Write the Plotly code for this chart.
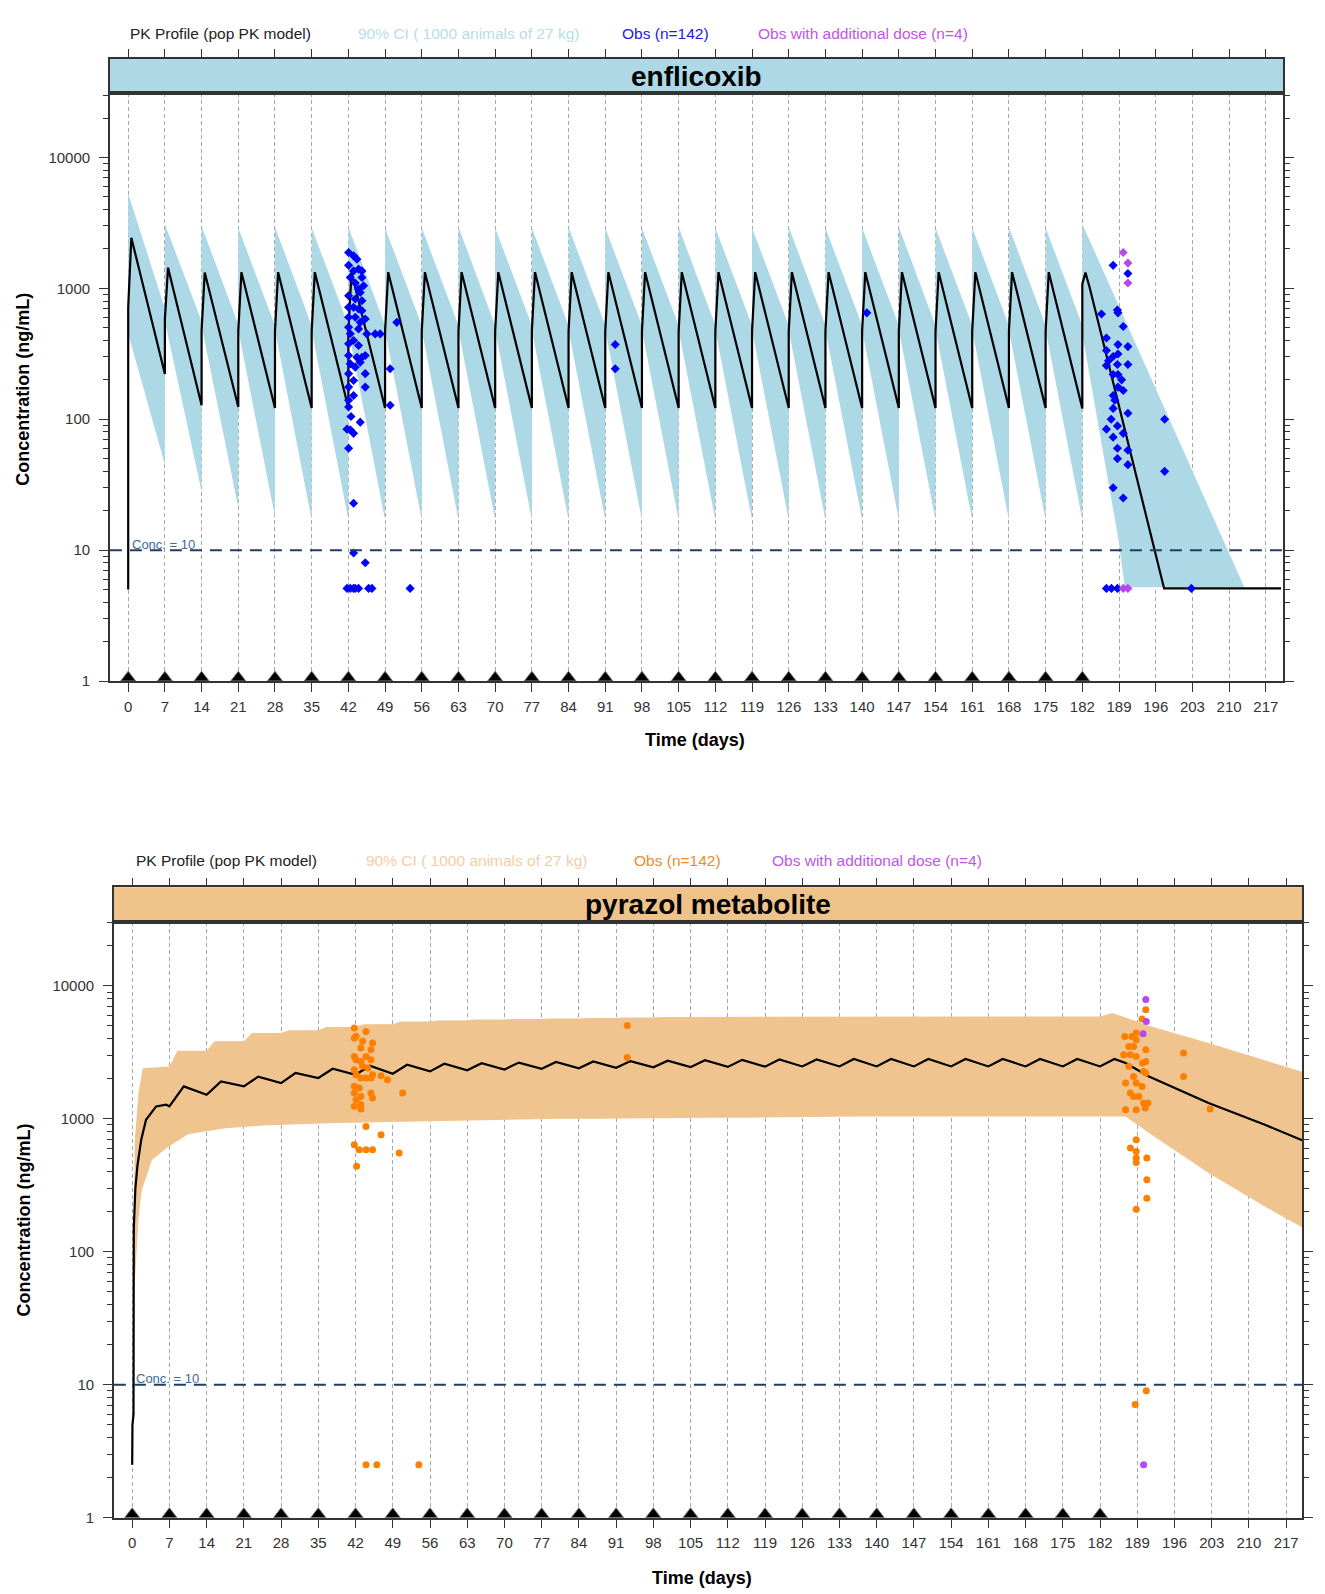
import plotly.graph_objects as go

# ---------------- values ----------------
dose_days = [0, 7, 14, 21, 28, 35, 42, 49, 56, 63, 70, 77, 84, 91, 98, 105, 112,
             119, 126, 133, 140, 147, 154, 161, 168, 175, 182]
day_ticks = [0, 7, 14, 21, 28, 35, 42, 49, 56, 63, 70, 77, 84, 91, 98, 105, 112,
             119, 126, 133, 140, 147, 154, 161, 168, 175, 182, 189, 196, 203, 210, 217]
conc_ticks = [1, 10, 100, 1000, 10000]
lloq = 10

# enflicoxib: median profile (start, after-dose jump, peak, value at next dose)
enf_start = 5
enf_jump = [716, 584, 475, 470, 470, 470, 470, 470, 470, 470, 470, 470, 470, 470,
            470, 470, 470, 470, 470, 470, 470, 470, 470, 470, 470, 470, 1080]
enf_peak = [2440, 1440, 1320, 1330, 1330, 1330, 1330, 1330, 1330, 1330, 1330, 1330,
            1330, 1330, 1330, 1330, 1330, 1330, 1330, 1330, 1330, 1330, 1330, 1330,
            1330, 1330, 1320]
enf_trough = [222, 128, 124, 122, 122, 122, 122, 122, 122, 122, 122, 122, 122, 122,
              122, 122, 122, 122, 122, 122, 122, 122, 122, 122, 122, 121]
enf_tail_days = [183.4, 197.6, 219.9]
enf_tail_conc = [1016, 5.1, 5.1]

# enflicoxib 90% CI band
enf_ci_hi_peak = [5300, 3100, 3000, 2900, 2950, 2900, 2950, 2900, 2900, 2950, 2900,
                  2900, 2950, 2900, 2900, 2950, 2900, 2900, 2950, 2900, 2900, 2950,
                  2900, 2900, 2950, 2900, 3100]
enf_ci_hi_end = [700, 560, 530, 520, 520, 520, 520, 520, 520, 520, 520, 520, 520,
                 520, 520, 520, 520, 520, 520, 520, 520, 520, 520, 520, 520, 520]
enf_ci_lo_start = [450, 560, 520, 480, 480, 480, 480, 480, 480, 480, 480, 480, 480,
                   480, 480, 480, 480, 480, 480, 480, 480, 480, 480, 480, 480, 480, 450]
enf_ci_lo_end = [45, 28, 21, 18, 17, 17, 17, 17, 17, 17, 17, 17, 17, 17, 17, 17, 17,
                 17, 17, 17, 17, 17, 17, 17, 17, 17]
enf_ci_tail_hi_days = [212.9]
enf_ci_tail_hi = [5.2]
enf_ci_tail_lo_days = [188.9, 190.1, 212.9]
enf_ci_tail_lo = [12, 5.2, 5.2]

# enflicoxib observations
enf_obs_days = [42.04, 42.99, 43.63, 42.04, 43.94, 44.58, 42.99, 42.36, 44.58, 43.31,
                44.90, 43.94, 44.26, 42.04, 43.31, 44.58, 42.04, 42.99, 43.94, 44.58,
                42.04, 43.31, 45.22, 44.26, 51.24, 42.04, 43.94, 42.36, 45.53, 47.12,
                48.07, 42.99, 42.04, 43.94, 42.04, 43.63, 44.58, 45.22, 42.36, 44.26,
                43.31, 49.97, 45.22, 42.04, 42.99, 42.04, 45.22, 42.99, 42.04, 49.97,
                42.04, 42.50, 44.26, 41.74, 42.36, 42.99, 42.04, 42.99, 42.99, 45.22,
                41.74, 42.36, 42.99, 43.31, 43.94, 45.85, 46.49, 53.78,
                92.9, 92.9, 140.9,
                187.88, 190.7, 185.66, 188.7, 188.8, 189.8, 186.6, 188.8, 190.7, 186.6,
                187.88, 188.8, 187.0, 186.6, 188.7, 190.7, 187.88, 188.8, 189.5, 188.8,
                189.8, 187.88, 188.2, 187.88, 190.7, 187.5, 186.6, 188.7, 187.88, 189.8,
                188.7, 190.7, 188.7, 190.7, 187.88, 189.8, 186.6, 187.56, 188.7,
                197.7, 197.7, 202.8]
enf_obs_conc = [1880, 1772, 1671, 1500, 1403, 1360, 1360, 1210, 1210, 1100,
                1047, 988, 931, 879, 829, 805, 716, 716, 696, 676,
                601, 601, 583, 550, 550, 505, 490, 450, 449, 449,
                449, 400, 377, 366, 307, 298, 298, 307, 265, 273,
                250, 243, 223, 223, 198, 176, 176, 152, 140, 128,
                124, 105, 95, 84, 83, 78, 60, 22.8, 9.5, 8.0,
                5.1, 5.1, 5.1, 5.1, 5.1, 5.1, 5.1, 5.1,
                373, 243, 650,
                1500, 1300, 637, 684, 650, 511, 418, 372, 359, 335,
                302, 315, 280, 257, 262, 262, 220, 220, 200, 176,
                166, 152, 140, 121, 111, 100, 84, 89, 73, 78,
                60, 58, 50, 45, 30, 25, 5.1, 5.1, 5.1,
                100, 40, 5.1]
enf_add_days = [189.8, 190.7, 190.7, 189.8, 190.7]
enf_add_conc = [1880, 1560, 1100, 5.1, 5.1]

# pyrazol metabolite: median profile
met_start_days = [0, 0.05, 0.25, 0.3, 0.6, 1.0, 1.7, 2.6, 4.5, 6.4]
met_start_conc = [2.5, 5, 6, 150, 300, 450, 697, 985, 1240, 1277]
met_trough = [1240, 1518, 1754, 1860, 2028, 2148, 2186, 2275, 2320, 2350, 2380, 2400,
              2420, 2440, 2450, 2460, 2470, 2480, 2480, 2480, 2480, 2480, 2480, 2480,
              2480, 2480]
met_peak = [1754, 1913, 2080, 2214, 2380, 2510, 2553, 2600, 2620, 2650, 2680, 2700,
            2720, 2740, 2760, 2780, 2800, 2800, 2820, 2820, 2820, 2820, 2820, 2820,
            2820, 2820]
met_tail_days = [186.8, 191.2, 202.4, 213.0, 220.0]
met_tail_conc = [2630, 2085, 1315, 903, 690]

# pyrazol metabolite 90% CI band
met_ci_hi_start_days = [0.1, 0.5, 1.2, 2.0, 7.0]
met_ci_hi_start = [80, 700, 1600, 2400, 2480]
met_ci_hi = [3260, 3830, 4430, 4650, 4900, 5150, 5410, 5500, 5580, 5650, 5700, 5750,
             5800, 5850, 5850, 5900, 5900, 5900, 5900, 5900, 5900, 5900, 5900, 5900,
             5900]
met_ci_tail_hi_days = [184.3, 191.2, 202.4, 220.0]
met_ci_tail_hi = [6270, 5020, 3720, 2260]
met_ci_lo_start_days = [0.1, 0.6, 1.2, 1.8, 3.7, 6.6]
met_ci_lo_start = [40, 70, 180, 290, 490, 610]
met_ci_lo = [767, 850, 890, 913, 930, 950, 960, 970, 980, 990, 1000, 1000, 1010, 1010,
             1020, 1020, 1030, 1030, 1040, 1040, 1040, 1040, 1040, 1040, 1040]
met_ci_tail_lo_days = [186.8, 191.2, 202.4, 213.0, 220.0]
met_ci_tail_lo = [1043, 782, 391, 219, 153]

# pyrazol metabolite observations
met_obs_days = [41.77, 43.97, 42.09, 41.77, 43.33, 45.2, 43.0, 44.9, 41.77, 43.97,
                42.09, 43.0, 44.9, 41.77, 43.33, 44.3, 42.09, 43.0, 43.97, 44.9,
                45.2, 46.8, 48.0, 41.77, 42.7, 41.77, 43.0, 44.9, 45.2, 42.09,
                43.0, 41.77, 43.0, 50.85, 43.97, 46.8, 41.77, 42.7, 43.97, 45.2,
                50.2, 42.2, 43.97, 46.0, 53.9,
                93.1, 93.1,
                190.6, 189.9, 186.65, 188.0, 188.8, 188.8, 187.4, 188.3, 190.6, 186.45,
                187.7, 188.8, 190.0, 190.6, 187.4, 190.2, 188.3, 190.6, 186.8, 188.8,
                189.9, 187.7, 188.3, 189.3, 190.2, 191.0, 186.8, 188.8, 190.5, 197.7,
                197.7, 202.7, 188.8, 187.7, 188.8, 188.8, 188.8, 190.8, 190.8, 190.8,
                188.8, 188.6, 190.7]
met_obs_conc = [4830, 4550, 4180, 4050, 3830, 3720, 3410, 3310, 2950, 2950,
                2786, 2705, 2786, 2344, 2483, 2410, 2148, 2028, 2028, 2028,
                2148, 2113, 1972, 1758, 1707, 1565, 1476, 1565, 1434, 1393,
                1277, 1242, 1186, 1565, 878, 760, 639, 586, 586, 586,
                553, 440, 2.5, 2.5, 2.5,
                5030, 2900,
                6630, 5640, 4170, 4170, 4430, 3940, 3510, 3510, 3310, 3040,
                3040, 2950, 2630, 2705, 2480, 2275, 2085, 2213, 1862, 1862,
                1754, 1565, 1476, 1476, 1315, 1315, 1172, 1172, 1205, 3130,
                2085, 1186, 697, 603, 569, 507, 470, 507, 348, 253,
                209, 7.1, 9.0]
met_add_days = [190.6, 190.7, 190.1, 190.2]
met_add_conc = [7890, 5410, 4370, 2.5]

# ---------------- build the drawn series ----------------
enf_x, enf_y = [0], [enf_start]
for k, d in enumerate(dose_days):
    if k > 0:
        enf_x.append(d)
        enf_y.append(enf_trough[k - 1])
    enf_x += [d, d + 0.6]
    enf_y += [enf_jump[k], enf_peak[k]]
enf_x += enf_tail_days
enf_y += enf_tail_conc

ehi_x, ehi_y, elo_x, elo_y = [], [], [], []
for k, d in enumerate(dose_days):
    if k > 0:
        ehi_x.append(d)
        ehi_y.append(enf_ci_hi_end[k - 1])
        elo_x.append(d)
        elo_y.append(enf_ci_lo_end[k - 1])
    ehi_x.append(d)
    ehi_y.append(enf_ci_hi_peak[k])
    elo_x.append(d)
    elo_y.append(enf_ci_lo_start[k])
ehi_x += enf_ci_tail_hi_days
ehi_y += enf_ci_tail_hi
elo_x += enf_ci_tail_lo_days
elo_y += enf_ci_tail_lo

met_x, met_y = list(met_start_days), list(met_start_conc)
for k, d in enumerate(dose_days[1:]):
    met_x += [d, d + 2.7]
    met_y += [met_trough[k], met_peak[k]]
met_x += met_tail_days
met_y += met_tail_conc

mhi_x, mhi_y = list(met_ci_hi_start_days), list(met_ci_hi_start)
mlo_x, mlo_y = list(met_ci_lo_start_days), list(met_ci_lo_start)
for k, d in enumerate(dose_days[1:-1]):
    mhi_x += [d + 1.5, d + 7]
    mhi_y += [met_ci_hi[k], met_ci_hi[k]]
    mlo_x.append(d + 3.5)
    mlo_y.append(met_ci_lo[k])
mhi_x += met_ci_tail_hi_days
mhi_y += met_ci_tail_hi
mlo_x += met_ci_tail_lo_days
mlo_y += met_ci_tail_lo

# ---------------- figure ----------------
FONT = "Liberation Sans, Arial, sans-serif"
BLUE_BAND = "#ADD8E6"
PEACH_BAND = "#F0C48E"
AXC = "#333333"
dose_level = 1.06

fig = go.Figure()

panels = [
    ("x", "y", ehi_x + elo_x[::-1], ehi_y + elo_y[::-1], BLUE_BAND, enf_x, enf_y,
     enf_obs_days, enf_obs_conc, enf_add_days, enf_add_conc, "#0000FF", "diamond", 7),
    ("x2", "y2", mhi_x + mlo_x[::-1], mhi_y + mlo_y[::-1], PEACH_BAND, met_x, met_y,
     met_obs_days, met_obs_conc, met_add_days, met_add_conc, "#FF7F00", "circle", 7),
]
for (xa, ya, bx, by, bc, lx, ly, ox, oy, ax_, ay_, oc, sym, ms) in panels:
    fig.add_trace(go.Scatter(x=bx, y=by, xaxis=xa, yaxis=ya, mode="lines",
                             fill="toself", fillcolor=bc, line=dict(width=0, color=bc),
                             hoverinfo="skip"))
    fig.add_trace(go.Scatter(x=lx, y=ly, xaxis=xa, yaxis=ya, mode="lines",
                             line=dict(color="black", width=2.2)))
    fig.add_trace(go.Scatter(x=ox, y=oy, xaxis=xa, yaxis=ya, mode="markers",
                             marker=dict(color=oc, size=ms, symbol=sym)))
    fig.add_trace(go.Scatter(x=ax_, y=ay_, xaxis=xa, yaxis=ya, mode="markers",
                             marker=dict(color="#B847F0", size=ms, symbol=sym)))
    fig.add_trace(go.Scatter(x=dose_days, y=[dose_level] * len(dose_days),
                             xaxis=xa, yaxis=ya, mode="markers", cliponaxis=False,
                             marker=dict(symbol="triangle-up", size=13, color="black",
                                         line=dict(color="#777777", width=1))))
    fig.add_shape(type="line", xref=xa + " domain", yref=ya, x0=0, x1=1,
                  y0=lloq, y1=lloq, layer="above",
                  line=dict(color="#1F3F66", width=2, dash="12px,8px"))
    fig.add_annotation(x=0.4, y=1, xref=xa, yref=ya, text="Conc. = 10",
                       showarrow=False, xanchor="left", yanchor="middle", yshift=6,
                       font=dict(family=FONT, size=13, color="#3B6A9C"))

# empty traces so the strip subplots get drawn
for xa, ya in [("x3", "y3"), ("x4", "y4")]:
    fig.add_trace(go.Scatter(x=[None], y=[None], xaxis=xa, yaxis=ya, mode="markers",
                             hoverinfo="skip"))

minor_vals = [m * 10 ** e for e in range(0, 5) for m in range(2, 10)]
tickfont = dict(family=FONT, size=15, color=AXC)


def main_x(dom, rng, anchor):
    return dict(domain=dom, range=rng, anchor=anchor, tickmode="array",
                tickvals=day_ticks, ticktext=[str(t) for t in day_ticks],
                ticks="outside", ticklen=9, tickwidth=1.3, tickcolor=AXC,
                showline=True, linecolor=AXC, linewidth=1.5, mirror=True,
                showgrid=True, gridcolor="#A6A6A6", gridwidth=1, griddash="4px,3px",
                zeroline=False, tickfont=tickfont, ticklabelstandoff=2)


def main_y(dom, top, anchor):
    return dict(domain=dom, type="log", range=[0, top], anchor=anchor,
                tickmode="array", tickvals=conc_ticks,
                ticktext=[str(t) for t in conc_ticks],
                ticks="outside", ticklen=9, tickwidth=1.3, tickcolor=AXC,
                minor=dict(tickmode="array", tickvals=minor_vals, ticks="outside",
                           ticklen=5, tickwidth=1.1, tickcolor=AXC),
                showline=True, linecolor=AXC, linewidth=1.5, mirror="ticks",
                showgrid=False, zeroline=False, tickfont=tickfont,
                ticklabelstandoff=6)


def strip_x(dom, rng, anchor):
    return dict(domain=dom, range=rng, anchor=anchor, side="top", tickmode="array",
                tickvals=day_ticks, ticks="outside", ticklen=8, tickwidth=1.3,
                tickcolor=AXC, showticklabels=False, showline=True, linecolor=AXC,
                linewidth=1.5, mirror=True, showgrid=False, zeroline=False)


def strip_y(dom, anchor):
    return dict(domain=dom, range=[0, 1], anchor=anchor, showticklabels=False,
                ticks="", showline=True, linecolor=AXC, linewidth=1.5, mirror=True,
                showgrid=False, zeroline=False)


W, H = 1325, 1594
top_xdom = [101.9 / W, 1275.1 / W]
top_ydom = [1 - 676.4 / H, 1 - 85.8 / H]
top_sdom = [1 - 85.8 / H, 1 - 51.1 / H]
bot_xdom = [105.9 / W, 1294.4 / W]
bot_ydom = [1 - 1517.3 / H, 1 - 918.6 / H]
bot_sdom = [1 - 918.6 / H, 1 - 883.8 / H]
top_xr = [-3.49, 220.3]
bot_xr = [-3.44, 220.05]

fig.update_layout(
    width=W, height=H, autosize=False, showlegend=False,
    margin=dict(l=0, r=0, t=0, b=0),
    paper_bgcolor="white", plot_bgcolor="white",
    font=dict(family=FONT, color=AXC),
    xaxis=main_x(top_xdom, top_xr, "y"),
    yaxis=main_y(top_ydom, 4.49, "x"),
    xaxis2=main_x(bot_xdom, bot_xr, "y2"),
    yaxis2=main_y(bot_ydom, 4.481, "x2"),
    xaxis3=strip_x(top_xdom, top_xr, "y3"),
    yaxis3=strip_y(top_sdom, "x3"),
    xaxis4=strip_x(bot_xdom, bot_xr, "y4"),
    yaxis4=strip_y(bot_sdom, "x4"),
)

# strips with panel names
for xa, ya, col, name in [("x3", "y3", BLUE_BAND, "enflicoxib"),
                          ("x4", "y4", "#EFC28A", "pyrazol metabolite")]:
    fig.add_shape(type="rect", xref=xa + " domain", yref=ya + " domain",
                  x0=0, x1=1, y0=0, y1=1, fillcolor=col, line=dict(width=0),
                  layer="below")
    fig.add_annotation(xref=xa + " domain", yref=ya + " domain", x=0.5, y=0.5,
                       xanchor="center", yanchor="middle",
                       text="<b>%s</b>" % name, showarrow=False,
                       font=dict(family=FONT, size=28, color="black"))

# key above each panel
legend_rows = [
    (1 - 25.5 / H, [(212.7, "PK Profile (pop PK model)", "#222222"),
                    (460.8, "90% CI ( 1000 animals of 27 kg)", "#B7DDEA"),
                    (657.9, "Obs (n=142)", "#1A1AE6"),
                    (855.2, "Obs with additional dose (n=4)", "#BF55E8")]),
    (1 - 857.3 / H, [(218.8, "PK Profile (pop PK model)", "#222222"),
                     (468.9, "90% CI ( 1000 animals of 27 kg)", "#F5CDA5"),
                     (669.2, "Obs (n=142)", "#F08A2A"),
                     (869.4, "Obs with additional dose (n=4)", "#BF55E8")]),
]
for yy, items in legend_rows:
    for xx, txt, col in items:
        fig.add_annotation(xref="paper", yref="paper", x=xx / W, y=yy, text=txt,
                           showarrow=False, xanchor="center", yanchor="middle",
                           font=dict(family=FONT, size=15.5, color=col))

# axis titles
for xx, yy in [(686.5, 735.7), (693.6, 1577.6)]:
    fig.add_annotation(xref="paper", yref="paper", x=xx / W, y=1 - yy / H,
                       xanchor="center", yanchor="middle",
                       text="<b>Time (days)</b>", showarrow=False,
                       font=dict(family=FONT, size=18, color="black"))
for yy in [383.2, 1218]:
    fig.add_annotation(xref="paper", yref="paper", x=15.5 / W, y=1 - yy / H,
                       xanchor="center", yanchor="middle",
                       text="<b>Concentration (ng/mL)</b>", showarrow=False,
                       textangle=-90, font=dict(family=FONT, size=18, color="black"))

fig.write_html("out.html")
